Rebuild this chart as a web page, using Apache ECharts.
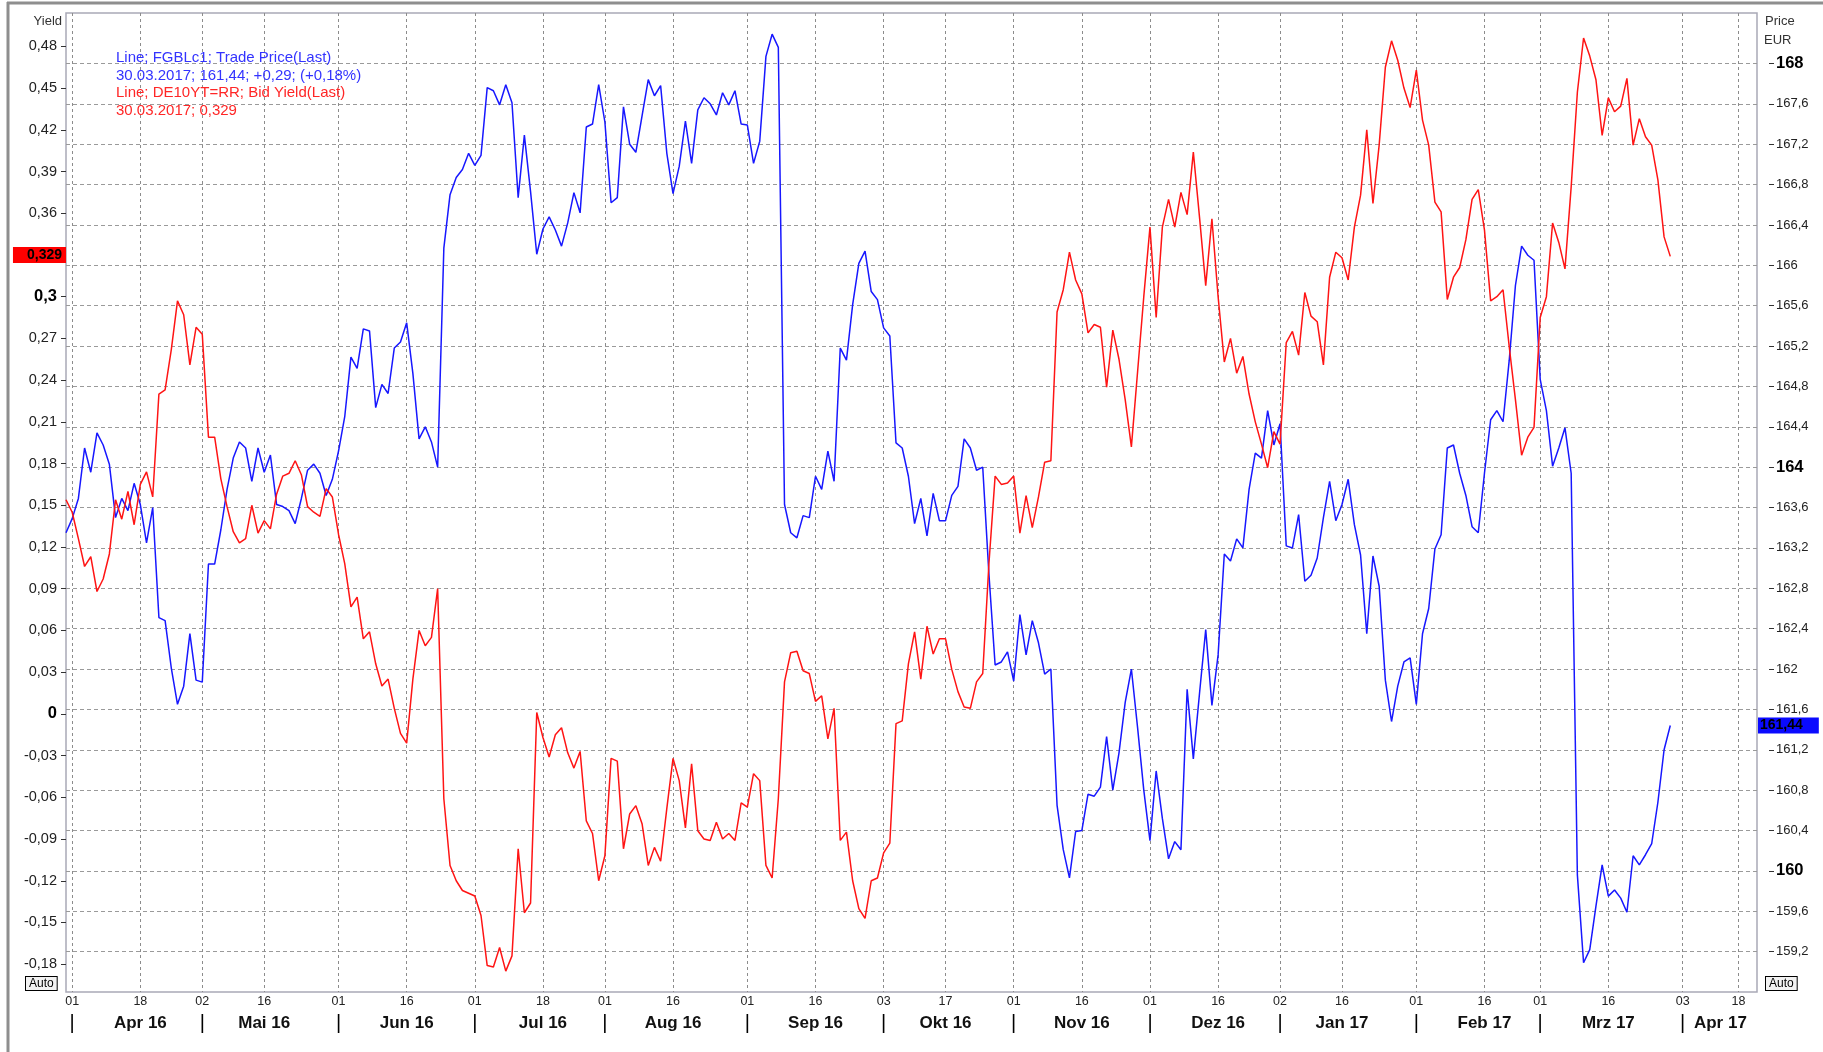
<!DOCTYPE html>
<html>
<head>
<meta charset="utf-8">
<script src="https://cdn.jsdelivr.net/npm/echarts@6/dist/echarts.min.js"></script>
<style>
html,body{margin:0;padding:0;background:#fff;}
#c{width:1823px;height:1052px;}
</style>
</head>
<body>
<div id="c"></div>
<script>
// ---- categories: trading days (weekdays minus exchange holidays) ----
const startDate = '2016-03-31';
const endDate = '2017-04-21';
const holidays = ['2016-12-26', '2017-04-14', '2017-04-17'];
const monthNames = ['Jan','Feb','Mrz','Apr','Mai','Jun','Jul','Aug','Sep','Okt','Nov','Dez'];

// ---- series values (one per trading day from 31.03.2016 to 30.03.2017) ----
const priceFGBL = [
163.35,163.49,163.69,164.19,163.95,164.34,164.22,164.03,163.50,163.69,
163.57,163.84,163.63,163.25,163.60,162.51,162.48,162.01,161.65,161.83,
162.35,161.89,161.87,163.04,163.04,163.38,163.78,164.09,164.25,164.19,
163.86,164.19,163.95,164.12,163.63,163.61,163.57,163.44,163.69,163.97,
164.03,163.94,163.72,163.88,164.16,164.50,165.09,164.98,165.37,165.35,
164.59,164.82,164.73,165.18,165.24,165.43,164.93,164.28,164.40,164.25,
164.00,166.17,166.70,166.87,166.95,167.11,166.99,167.09,167.76,167.73,
167.59,167.79,167.61,166.67,167.29,166.73,166.11,166.36,166.48,166.35,
166.19,166.42,166.72,166.52,167.37,167.40,167.79,167.42,166.62,166.67,
167.57,167.20,167.12,167.48,167.84,167.68,167.78,167.11,166.71,166.98,
167.43,167.01,167.54,167.66,167.60,167.49,167.71,167.59,167.73,167.40,
167.39,167.01,167.23,168.07,168.29,168.16,163.63,163.35,163.30,163.52,
163.50,163.91,163.78,164.16,163.86,165.18,165.06,165.61,166.02,166.14,
165.74,165.66,165.38,165.30,164.24,164.19,163.91,163.44,163.69,163.32,
163.74,163.47,163.47,163.72,163.81,164.28,164.19,163.97,164.00,162.94,
162.04,162.07,162.17,161.88,162.54,162.14,162.48,162.26,161.95,162.00,
160.65,160.21,159.93,160.39,160.40,160.76,160.74,160.83,161.33,160.80,
161.17,161.67,162.00,161.42,160.80,160.30,160.99,160.52,160.12,160.29,
160.21,161.80,161.11,161.76,162.39,161.64,162.14,163.14,163.07,163.29,
163.20,163.78,164.14,164.09,164.56,164.22,164.43,163.22,163.20,163.53,
162.87,162.93,163.10,163.50,163.86,163.47,163.63,163.88,163.43,163.13,
162.35,163.12,162.82,161.89,161.48,161.83,162.07,162.11,161.65,162.35,
162.60,163.19,163.33,164.19,164.22,163.94,163.72,163.41,163.35,163.94,
164.47,164.56,164.45,165.06,165.80,166.19,166.10,166.05,164.87,164.56,
164.01,164.19,164.39,163.94,159.96,159.09,159.22,159.65,160.06,159.75,
159.81,159.73,159.59,160.15,160.06,160.16,160.27,160.68,161.20,161.44
];
const yieldDE10 = [
0.154,0.145,0.126,0.106,0.113,0.088,0.097,0.115,0.154,0.140,
0.160,0.136,0.165,0.174,0.156,0.230,0.233,0.262,0.297,0.287,
0.251,0.278,0.273,0.199,0.199,0.169,0.149,0.131,0.123,0.126,
0.150,0.130,0.139,0.133,0.158,0.171,0.173,0.182,0.172,0.149,
0.145,0.142,0.162,0.156,0.129,0.108,0.077,0.084,0.054,0.059,
0.036,0.020,0.025,0.004,-0.014,-0.021,0.025,0.060,0.049,0.055,
0.090,-0.061,-0.109,-0.120,-0.127,-0.129,-0.131,-0.145,-0.181,-0.182,
-0.168,-0.185,-0.174,-0.097,-0.143,-0.136,0.001,-0.017,-0.031,-0.015,
-0.010,-0.028,-0.039,-0.027,-0.077,-0.086,-0.120,-0.102,-0.032,-0.034,
-0.097,-0.072,-0.066,-0.079,-0.109,-0.096,-0.106,-0.068,-0.032,-0.048,
-0.082,-0.036,-0.084,-0.090,-0.091,-0.078,-0.090,-0.086,-0.091,-0.064,
-0.067,-0.043,-0.048,-0.109,-0.118,-0.061,0.023,0.044,0.045,0.031,
0.029,0.009,0.013,-0.018,0.004,-0.091,-0.085,-0.120,-0.140,-0.147,
-0.120,-0.118,-0.100,-0.093,-0.007,-0.005,0.036,0.059,0.025,0.063,
0.043,0.054,0.054,0.032,0.016,0.005,0.004,0.023,0.029,0.108,
0.171,0.165,0.166,0.171,0.130,0.157,0.134,0.156,0.181,0.182,
0.289,0.305,0.332,0.312,0.302,0.274,0.280,0.278,0.235,0.276,
0.255,0.226,0.192,0.246,0.300,0.350,0.285,0.350,0.370,0.350,
0.375,0.359,0.404,0.357,0.308,0.356,0.300,0.253,0.270,0.245,
0.257,0.230,0.210,0.194,0.177,0.203,0.194,0.267,0.275,0.258,
0.303,0.286,0.282,0.251,0.314,0.332,0.328,0.312,0.350,0.373,
0.420,0.367,0.409,0.465,0.484,0.470,0.450,0.436,0.463,0.427,
0.409,0.368,0.361,0.298,0.314,0.321,0.341,0.370,0.377,0.348,
0.297,0.300,0.305,0.264,0.226,0.186,0.199,0.206,0.285,0.300,
0.353,0.339,0.320,0.379,0.447,0.486,0.473,0.456,0.416,0.443,
0.433,0.437,0.457,0.409,0.428,0.415,0.409,0.384,0.343,0.329
];

// ---- tick values ----
const yieldTicks = [-0.18,-0.15,-0.12,-0.09,-0.06,-0.03,0,0.03,0.06,0.09,0.12,0.15,0.18,0.21,0.24,0.27,0.30,0.33,0.36,0.39,0.42,0.45,0.48];
const priceTicks = [159.2,159.6,160,160.4,160.8,161.2,161.6,162,162.4,162.8,163.2,163.6,164,164.4,164.8,165.2,165.6,166,166.4,166.8,167.2,167.6,168];
const priceMin = 158.8, priceMax = 168.5, priceStep = 0.4;
const yieldMin = -0.2, yieldMax = 0.504;

// ---- texts ----
const legendBlue = ['Line; FGBLc1; Trade Price(Last)', '30.03.2017; 161,44; +0,29; (+0,18%)'];
const legendRed = ['Line; DE10YT=RR; Bid Yield(Last)', '30.03.2017; 0,329'];

function buildDays() {
  const out = [];
  let t = Date.parse(startDate + 'T00:00:00Z');
  const end = Date.parse(endDate + 'T00:00:00Z');
  while (t <= end) {
    const d = new Date(t);
    const wd = d.getUTCDay();
    const s = d.toISOString().slice(0, 10);
    if (wd !== 0 && wd !== 6 && holidays.indexOf(s) < 0) out.push(s);
    t += 86400000;
  }
  return out;
}
const tradingDays = buildDays();
const labelKind = tradingDays.map(function (s, i) {
  if (i === 0) return null;
  const prev = tradingDays[i - 1];
  if (prev.slice(5, 7) !== s.slice(5, 7)) return 'start';
  if (+s.slice(8, 10) >= 16 && +prev.slice(8, 10) < 16) return 'mid';
  return null;
});
const lastIdx = tradingDays.length - 1;
const lastPrice = priceFGBL[priceFGBL.length - 1];
const lastYield = yieldDE10[yieldDE10.length - 1];

function fmtYield(v) {
  const r = Math.round(v * 100) / 100;
  const s = r === 0 ? '0' : String(r).replace('.', ',');
  const bold = Math.abs(r * 10 - Math.round(r * 10)) < 1e-6;
  return bold ? '{b|' + s + '}' : '{n|' + s + '}';
}
function fmtPrice(v) {
  const r = Math.round(v * 10) / 10;
  const s = String(r).replace('.', ',');
  const bold = Math.abs(r - Math.round(r)) < 1e-6 && Math.round(r) % 4 === 0;
  return bold ? '{b|' + s + '}' : '{n|' + s + '}';
}
function fmtComma(v, d) { return v.toFixed(d).replace('.', ','); }

const FONT = '"Liberation Sans", Arial, Helvetica, sans-serif';
const leftRich = {
  n: {fontSize: 14.5, color: '#222', fontFamily: FONT},
  b: {fontSize: 16.5, color: '#000', fontWeight: 'bold', fontFamily: FONT}
};
const rightRich = {
  n: {fontSize: 13, color: '#222', fontFamily: FONT},
  b: {fontSize: 16.5, color: '#000', fontWeight: 'bold', fontFamily: FONT}
};

const chart = echarts.init(document.getElementById('c'), null, {renderer: 'canvas'});
chart.setOption({
  animation: false,
  backgroundColor: '#ffffff',
  textStyle: {fontFamily: FONT},
  title: {
    left: 116, top: 49, padding: 0,
    text: '{bl|' + legendBlue[0] + '}\n{bl|' + legendBlue[1] + '}\n{rd|' + legendRed[0] + '}\n{rd|' + legendRed[1] + '}',
    textStyle: {
      fontWeight: 'normal',
      rich: {
        bl: {color: '#3333ff', fontSize: 15, fontWeight: 'normal', lineHeight: 17.7, fontFamily: FONT},
        rd: {color: '#ff2626', fontSize: 15, fontWeight: 'normal', lineHeight: 17.7, fontFamily: FONT}
      }
    }
  },
  grid: {
    left: 66, right: 66, top: 13, bottom: 60,
    show: true, borderColor: '#a9a9b6', borderWidth: 1.5,
    backgroundColor: 'rgba(0,0,0,0)',
    containLabel: false, outerBoundsMode: 'none'
  },
  xAxis: {
    type: 'category',
    data: tradingDays,
    boundaryGap: false,
    axisLine: {show: false},
    axisTick: {show: false},
    splitLine: {
      show: true,
      interval: function (i) { return !!labelKind[i]; },
      lineStyle: {color: '#8c8c8c', width: 1, type: [3, 3]}
    },
    axisLabel: {
      show: true,
      interval: function (i) { return !!labelKind[i]; },
      margin: 2,
      formatter: function (value) {
        const i = tradingDays.indexOf(value);
        const k = labelKind[i];
        const day = value.slice(8, 10);
        if (k === 'start') return '{d|' + day + '}\n{s||}';
        const m = monthNames[+value.slice(5, 7) - 1] + ' ' + value.slice(2, 4);
        if (i > lastIdx - 6) return '{d|' + day + '}\n{ml|' + m + '}';
        return '{d|' + day + '}\n{m|' + m + '}';
      },
      rich: {
        d: {fontSize: 12.5, color: '#222', lineHeight: 16, fontFamily: FONT},
        m: {fontSize: 17, fontWeight: 'bold', color: '#111', lineHeight: 26, fontFamily: FONT},
        ml: {fontSize: 17, fontWeight: 'bold', color: '#111', lineHeight: 26, fontFamily: FONT, padding: [0, 36, 0, 0]},
        s: {fontSize: 20, color: '#000', lineHeight: 26, fontFamily: FONT}
      }
    }
  },
  yAxis: [
    {
      type: 'value', position: 'left',
      min: yieldMin, max: yieldMax,
      axisLine: {show: false},
      splitLine: {show: false},
      axisTick: {show: true, length: 5, customValues: yieldTicks, lineStyle: {color: '#333', width: 1}},
      axisLabel: {show: true, margin: 9, customValues: yieldTicks, formatter: fmtYield, rich: leftRich}
    },
    {
      type: 'value', position: 'right', offset: 12,
      min: priceMin, max: priceMax, interval: priceStep,
      axisLine: {show: false},
      splitLine: {show: true, lineStyle: {color: '#9a9a9a', width: 1, type: [4, 3]}},
      axisTick: {show: true, length: 5, customValues: priceTicks, lineStyle: {color: '#333', width: 1}},
      axisLabel: {show: true, margin: 7, customValues: priceTicks, formatter: fmtPrice, rich: rightRich}
    }
  ],
  series: [
    {
      name: 'FGBLc1', type: 'line', yAxisIndex: 1,
      data: priceFGBL, symbol: 'none', showSymbol: false,
      lineStyle: {color: '#1717ff', width: 1.5}, itemStyle: {color: '#1717ff'},
      z: 2,
      markLine: {
        silent: true, symbol: 'none', animation: false,
        lineStyle: {color: 'rgba(0,0,0,0)', width: 0, opacity: 1},
        label: {
          show: true, position: 'end', distance: 1, opacity: 1,
          formatter: function () { return fmtComma(lastPrice, 2); },
          backgroundColor: '#0a0aff', color: '#000', fontWeight: 'bold', fontSize: 14,
          padding: [1, 16, 1, 2], fontFamily: FONT
        },
        data: [{yAxis: lastPrice}]
      }
    },
    {
      name: 'DE10YT=RR', type: 'line', yAxisIndex: 0,
      data: yieldDE10, symbol: 'none', showSymbol: false,
      lineStyle: {color: '#ff1414', width: 1.5}, itemStyle: {color: '#ff1414'},
      z: 3,
      markLine: {
        silent: true, symbol: 'none', animation: false,
        lineStyle: {color: 'rgba(0,0,0,0)', width: 0, opacity: 1},
        label: {
          show: true, position: 'start', distance: 0, opacity: 1,
          formatter: function () { return fmtComma(lastYield, 3); },
          backgroundColor: '#ff0000', color: '#000', fontWeight: 'bold', fontSize: 14,
          padding: [1, 4, 1, 14], fontFamily: FONT
        },
        data: [{yAxis: lastYield}]
      }
    }
  ],
  graphic: [
    {type: 'line', silent: true, shape: {x1: 7, y1: 3, x2: 1823, y2: 3}, style: {stroke: '#8e8e8e', lineWidth: 3}},
    {type: 'line', silent: true, shape: {x1: 8, y1: 2, x2: 8, y2: 1052}, style: {stroke: '#8e8e8e', lineWidth: 3}},
    {type: 'text', silent: true, style: {text: 'Yield', x: 62, y: 21, align: 'right', verticalAlign: 'middle', font: '13px ' + FONT, fill: '#333'}},
    {type: 'text', silent: true, style: {text: 'Price', x: 1765, y: 21, align: 'left', verticalAlign: 'middle', font: '13px ' + FONT, fill: '#333'}},
    {type: 'text', silent: true, style: {text: 'EUR', x: 1764, y: 40, align: 'left', verticalAlign: 'middle', font: '13px ' + FONT, fill: '#333'}},
    {type: 'text', silent: true, style: {text: 'Auto', x: 26, y: 977, font: '12px ' + FONT, fill: '#000', backgroundColor: '#f2f2f2', borderColor: '#000', borderWidth: 1, padding: [1, 3, 0, 3]}},
    {type: 'text', silent: true, style: {text: 'Auto', x: 1766, y: 977, font: '12px ' + FONT, fill: '#000', backgroundColor: '#f2f2f2', borderColor: '#000', borderWidth: 1, padding: [1, 3, 0, 3]}}
  ]
});
</script>
</body>
</html>
